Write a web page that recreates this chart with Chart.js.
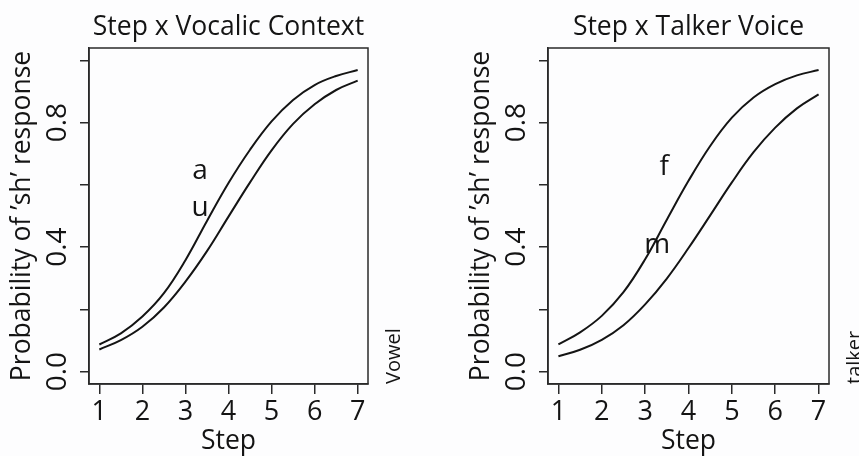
<!DOCTYPE html>
<html lang="en">
<head>
<meta charset="UTF-8">
<title>Step x Vocalic Context / Step x Talker Voice</title>
<script src="https://cdn.jsdelivr.net/npm/chart.js"></script>
<style>
  body { margin: 0; background: #fdfdfe; }
  #wrap { position: relative; width: 859px; height: 456px; overflow: hidden; }
  canvas { position: absolute; top: 0; }
</style>
</head>
<body>
<div id="wrap">
  <canvas id="vowelChart" width="430" height="456" style="left:0"></canvas>
  <canvas id="talkerChart" width="429" height="456" style="left:430px"></canvas>
</div>
<script>
// curve values at every half step
const steps = [1, 1.5, 2, 2.5, 3, 3.5, 4, 4.5, 5, 5.5, 6, 6.5, 7];
const vowelA = [0.087, 0.123, 0.177, 0.252, 0.358, 0.484, 0.606, 0.713, 0.804, 0.873, 0.921, 0.950, 0.969];
const vowelU = [0.071, 0.101, 0.144, 0.206, 0.289, 0.387, 0.498, 0.608, 0.711, 0.796, 0.859, 0.905, 0.935];
const talkerF = [0.087, 0.126, 0.179, 0.255, 0.361, 0.488, 0.613, 0.725, 0.816, 0.881, 0.924, 0.952, 0.969];
const talkerM = [0.049, 0.070, 0.102, 0.149, 0.216, 0.299, 0.397, 0.502, 0.608, 0.705, 0.784, 0.846, 0.891];

const xTicks = [1, 2, 3, 4, 5, 6, 7];
const yTicks = [0, 0.2, 0.4, 0.6, 0.8, 1.0];
const yTickLabels = ['0.0', '', '0.4', '', '0.8', ''];

// in-plot labels (data coordinates)
const vowelLabels = [{ text: 'a', x: 3.34, y: 0.643 }, { text: 'u', x: 3.34, y: 0.527 }];
const talkerLabels = [{ text: 'f', x: 3.44, y: 0.656 }, { text: 'm', x: 3.28, y: 0.408 }];

const family = '"Open Sans", "Noto Sans", sans-serif';
const weight = '500';
const ink = '#141414';
const boxColor = '#2a2a2a';

// box, title, rotated y tick labels, curve labels, factor name
const panelText = {
    id: 'panelText',
    afterDraw(chart, args, opts) {
        const { ctx, chartArea: a, scales: { x, y } } = chart;
        ctx.save();
        ctx.strokeStyle = boxColor;
        ctx.lineWidth = 1.5;
        ctx.strokeRect(a.left, a.top, a.right - a.left, a.bottom - a.top);

        ctx.fillStyle = ink;
        ctx.textAlign = 'center';
        ctx.textBaseline = 'middle';
        ctx.font = weight + ' 26.5px ' + family;
        ctx.fillText(opts.title, (a.left + a.right) / 2, 27);

        ctx.font = weight + ' 28px ' + family;
        yTicks.forEach((v, i) => {
            if (!yTickLabels[i]) return;
            ctx.save();
            ctx.translate(a.left - 31, y.getPixelForValue(v));
            ctx.rotate(-Math.PI / 2);
            ctx.fillText(yTickLabels[i], 0, 0);
            ctx.restore();
        });

        ctx.font = weight + ' 28px ' + family;
        opts.labels.forEach(l => {
            ctx.fillText(l.text, x.getPixelForValue(l.x), y.getPixelForValue(l.y));
        });

        ctx.font = weight + ' 20px ' + family;
        ctx.textAlign = 'left';
        ctx.save();
        ctx.translate(a.right + 26, a.bottom);
        ctx.rotate(-Math.PI / 2);
        ctx.fillText(opts.side, 0, 0);
        ctx.restore();
        ctx.restore();
    }
};

function makeChart(id, title, side, series, labels, padLeft, padRight) {
    return new Chart(document.getElementById(id), {
        type: 'line',
        data: {
            datasets: series.map(vals => ({
                data: steps.map((s, i) => ({ x: s, y: vals[i] })),
                borderColor: ink,
                borderWidth: 2,
                pointRadius: 0,
                tension: 0.4,
                fill: false
            }))
        },
        options: {
            responsive: false,
            animation: false,
            layout: { padding: { top: 48, left: padLeft, right: padRight, bottom: 0 } },
            plugins: {
                legend: { display: false },
                tooltip: { enabled: false },
                panelText: { title: title, side: side, labels: labels }
            },
            scales: {
                x: {
                    type: 'linear',
                    min: 0.76,
                    max: 7.24,
                    afterBuildTicks: s => { s.ticks = xTicks.map(v => ({ value: v })); },
                    afterFit: s => { s.height = 72; },
                    grid: { drawOnChartArea: false, tickLength: 10, color: boxColor, lineWidth: 1.5 },
                    border: { color: boxColor, width: 1.5 },
                    ticks: {
                        color: ink, padding: 2, autoSkip: false, maxRotation: 0,
                        font: { family: family, size: 27, weight: weight },
                        callback: v => String(v)
                    },
                    title: {
                        display: true, text: 'Step', color: ink, padding: 0,
                        font: { family: family, size: 26.5, weight: weight, lineHeight: 1.1 }
                    }
                },
                y: {
                    type: 'linear',
                    min: -0.04,
                    max: 1.04,
                    afterBuildTicks: s => { s.ticks = yTicks.map(v => ({ value: v })); },
                    afterFit: s => { s.width = 89; },
                    grid: { drawOnChartArea: false, tickLength: 9, color: boxColor, lineWidth: 1.5 },
                    border: { color: boxColor, width: 1.5 },
                    ticks: { display: false },
                    title: {
                        display: true, text: 'Probability of ’sh’ response', color: ink,
                        padding: { top: 7, bottom: 0 },
                        font: { family: family, size: 26.5, weight: weight }
                    }
                }
            }
        },
        plugins: [panelText]
    });
}

makeChart('vowelChart', 'Step x Vocalic Context', 'Vowel', [vowelA, vowelU], vowelLabels, 0, 62);
makeChart('talkerChart', 'Step x Talker Voice', 'talker', [talkerF, talkerM], talkerLabels, 29, 30);
</script>
</body>
</html>
